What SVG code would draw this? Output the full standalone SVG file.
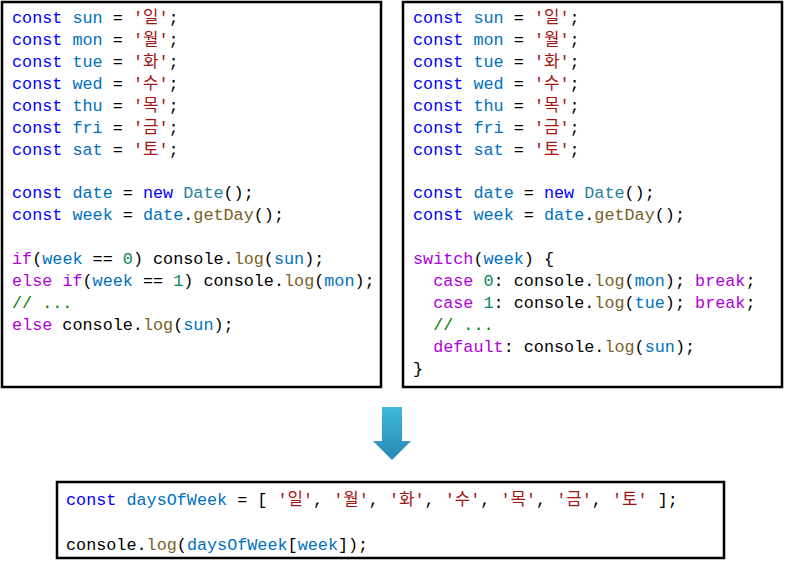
<svg xmlns="http://www.w3.org/2000/svg" width="787" height="565" viewBox="0 0 787 565">
<style>
text{font-family:"Liberation Mono","Noto Sans CJK KR",monospace;font-size:16.8px;fill:#000;white-space:pre}
.k{fill:#0000ff}.v{fill:#0070c1}.s{fill:#a31515}.f{fill:#795e26}.t{fill:#267f99}.c{fill:#af00db}.n{fill:#098658}.m{fill:#008000}
.box{fill:#fff;stroke:#000;stroke-width:2.5}
</style>
<defs><linearGradient id="g" x1="0" y1="0" x2="0" y2="1"><stop offset="0" stop-color="#3db8dc"/><stop offset="1" stop-color="#2888b4"/></linearGradient></defs>
<rect width="787" height="565" fill="#fff"/>
<g id="left">
<rect class="box" x="2" y="2" width="379" height="385"/>
<text xml:space="preserve" x="12" y="23"><tspan class="k">const</tspan> <tspan class="v">sun</tspan> = <tspan class="s">'일'</tspan>;</text>
<text xml:space="preserve" x="12" y="45"><tspan class="k">const</tspan> <tspan class="v">mon</tspan> = <tspan class="s">'월'</tspan>;</text>
<text xml:space="preserve" x="12" y="67"><tspan class="k">const</tspan> <tspan class="v">tue</tspan> = <tspan class="s">'화'</tspan>;</text>
<text xml:space="preserve" x="12" y="89"><tspan class="k">const</tspan> <tspan class="v">wed</tspan> = <tspan class="s">'수'</tspan>;</text>
<text xml:space="preserve" x="12" y="111"><tspan class="k">const</tspan> <tspan class="v">thu</tspan> = <tspan class="s">'목'</tspan>;</text>
<text xml:space="preserve" x="12" y="133"><tspan class="k">const</tspan> <tspan class="v">fri</tspan> = <tspan class="s">'금'</tspan>;</text>
<text xml:space="preserve" x="12" y="155"><tspan class="k">const</tspan> <tspan class="v">sat</tspan> = <tspan class="s">'토'</tspan>;</text>
<text xml:space="preserve" x="12" y="198"><tspan class="k">const</tspan> <tspan class="v">date</tspan> = <tspan class="k">new</tspan> <tspan class="t">Date</tspan>();</text>
<text xml:space="preserve" x="12" y="220"><tspan class="k">const</tspan> <tspan class="v">week</tspan> = <tspan class="v">date</tspan>.<tspan class="f">getDay</tspan>();</text>
<text xml:space="preserve" x="12" y="264"><tspan class="c">if</tspan>(<tspan class="v">week</tspan> == <tspan class="n">0</tspan>) console.<tspan class="f">log</tspan>(<tspan class="v">sun</tspan>);</text>
<text xml:space="preserve" x="12" y="286"><tspan class="c">else</tspan> <tspan class="c">if</tspan>(<tspan class="v">week</tspan> == <tspan class="n">1</tspan>) console.<tspan class="f">log</tspan>(<tspan class="v">mon</tspan>);</text>
<text xml:space="preserve" x="12" y="308" class="m">// ...</text>
<text xml:space="preserve" x="12" y="330"><tspan class="c">else</tspan> console.<tspan class="f">log</tspan>(<tspan class="v">sun</tspan>);</text>
</g>
<g id="right">
<rect class="box" x="403" y="2" width="379" height="385"/>
<text xml:space="preserve" x="413" y="23"><tspan class="k">const</tspan> <tspan class="v">sun</tspan> = <tspan class="s">'일'</tspan>;</text>
<text xml:space="preserve" x="413" y="45"><tspan class="k">const</tspan> <tspan class="v">mon</tspan> = <tspan class="s">'월'</tspan>;</text>
<text xml:space="preserve" x="413" y="67"><tspan class="k">const</tspan> <tspan class="v">tue</tspan> = <tspan class="s">'화'</tspan>;</text>
<text xml:space="preserve" x="413" y="89"><tspan class="k">const</tspan> <tspan class="v">wed</tspan> = <tspan class="s">'수'</tspan>;</text>
<text xml:space="preserve" x="413" y="111"><tspan class="k">const</tspan> <tspan class="v">thu</tspan> = <tspan class="s">'목'</tspan>;</text>
<text xml:space="preserve" x="413" y="133"><tspan class="k">const</tspan> <tspan class="v">fri</tspan> = <tspan class="s">'금'</tspan>;</text>
<text xml:space="preserve" x="413" y="155"><tspan class="k">const</tspan> <tspan class="v">sat</tspan> = <tspan class="s">'토'</tspan>;</text>
<text xml:space="preserve" x="413" y="198"><tspan class="k">const</tspan> <tspan class="v">date</tspan> = <tspan class="k">new</tspan> <tspan class="t">Date</tspan>();</text>
<text xml:space="preserve" x="413" y="220"><tspan class="k">const</tspan> <tspan class="v">week</tspan> = <tspan class="v">date</tspan>.<tspan class="f">getDay</tspan>();</text>
<text xml:space="preserve" x="413" y="264"><tspan class="c">switch</tspan>(<tspan class="v">week</tspan>) {</text>
<text xml:space="preserve" x="413" y="286">  <tspan class="c">case</tspan> <tspan class="n">0</tspan>: console.<tspan class="f">log</tspan>(<tspan class="v">mon</tspan>); <tspan class="c">break</tspan>;</text>
<text xml:space="preserve" x="413" y="308">  <tspan class="c">case</tspan> <tspan class="n">1</tspan>: console.<tspan class="f">log</tspan>(<tspan class="v">tue</tspan>); <tspan class="c">break</tspan>;</text>
<text xml:space="preserve" x="413" y="330">  <tspan class="m">// ...</tspan></text>
<text xml:space="preserve" x="413" y="352">  <tspan class="c">default</tspan>: console.<tspan class="f">log</tspan>(<tspan class="v">sun</tspan>);</text>
<text xml:space="preserve" x="413" y="374">}</text>
</g>
<g id="arrow">
<path d="M382,407 H402 V441 H411 L392,460 L373,441 H382 Z" fill="url(#g)"/>
</g>
<g id="bottom">
<rect class="box" x="57" y="482" width="667" height="76"/>
<text xml:space="preserve" x="66" y="505"><tspan class="k">const</tspan> <tspan class="v">daysOfWeek</tspan> = [ <tspan class="s">'일'</tspan>, <tspan class="s">'월'</tspan>, <tspan class="s">'화'</tspan>, <tspan class="s">'수'</tspan>, <tspan class="s">'목'</tspan>, <tspan class="s">'금'</tspan>, <tspan class="s">'토'</tspan> ];</text>
<text xml:space="preserve" x="66" y="550">console.<tspan class="f">log</tspan>(<tspan class="v">daysOfWeek</tspan>[<tspan class="v">week</tspan>]);</text>
</g>
</svg>
